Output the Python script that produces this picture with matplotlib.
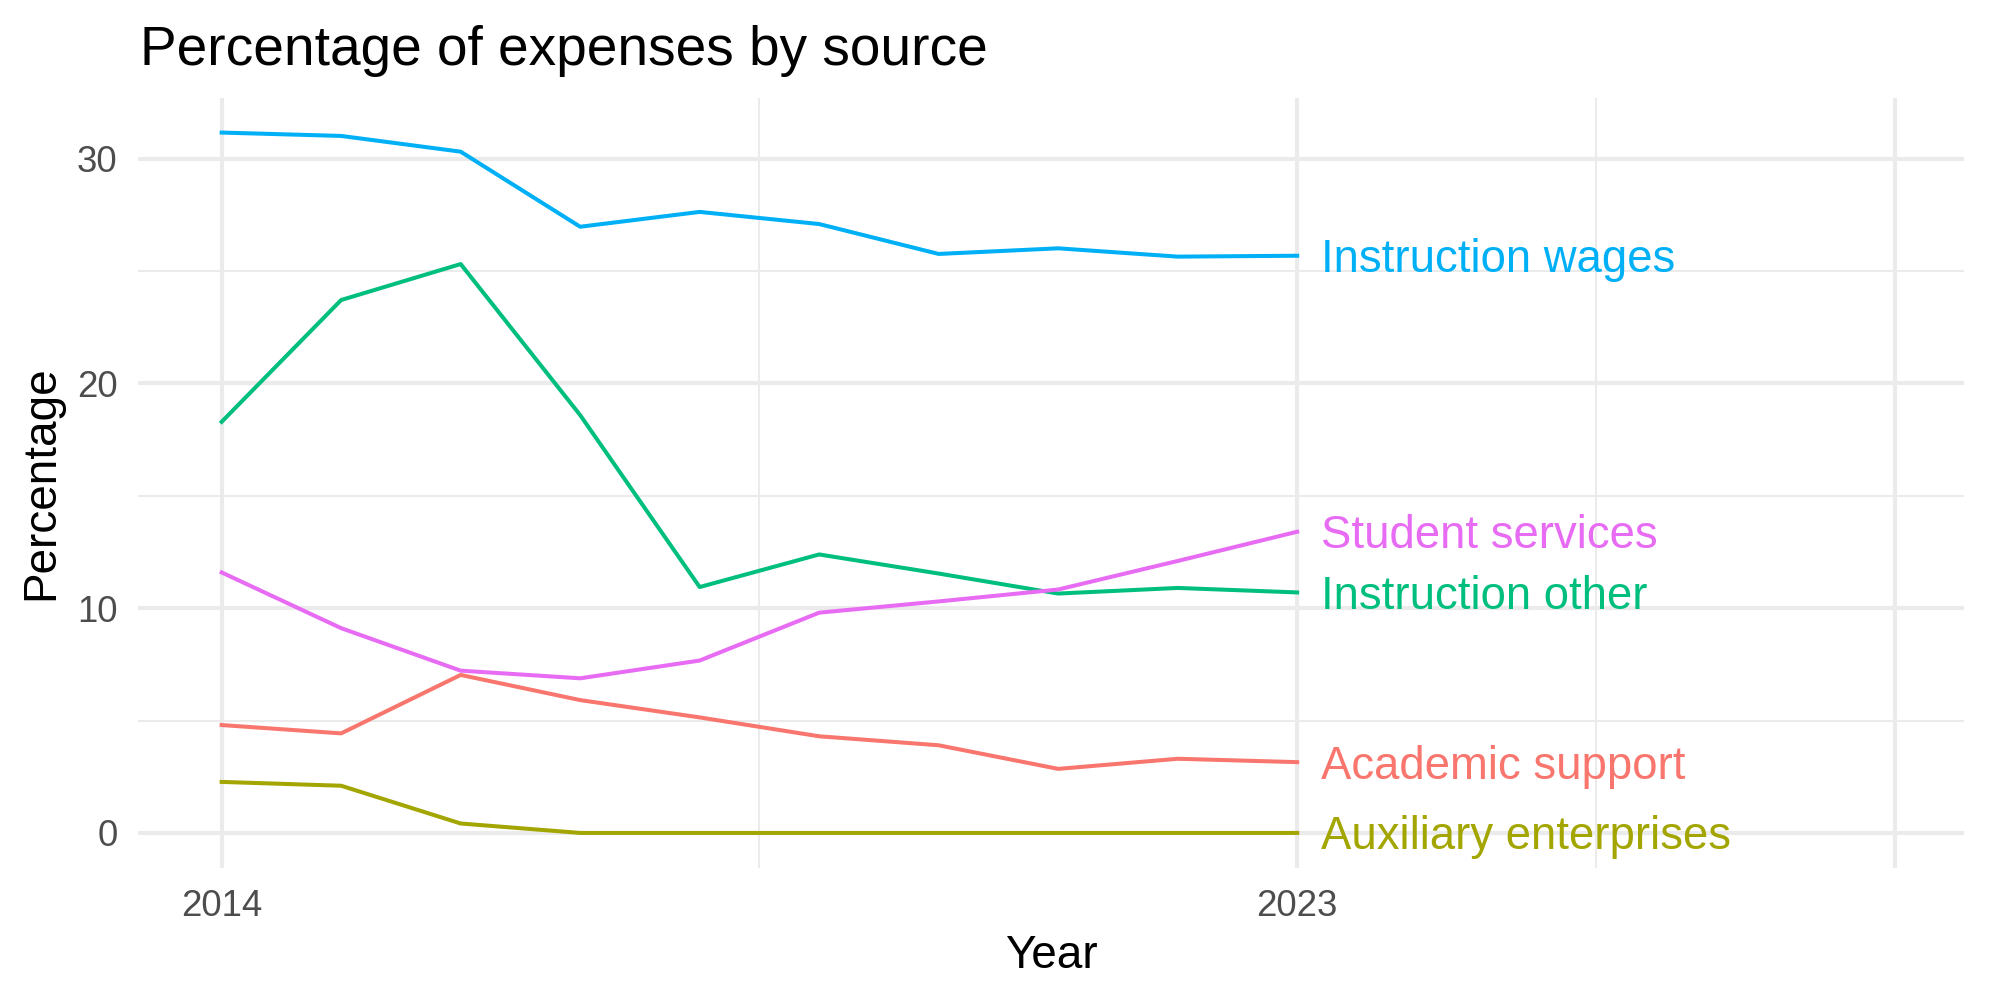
import matplotlib
matplotlib.use("Agg")
import matplotlib.pyplot as plt
from matplotlib.transforms import offset_copy

plt.rcParams['font.family'] = ['Liberation Sans', 'DejaVu Sans']

# data
years = [2014, 2015, 2016, 2017, 2018, 2019, 2020, 2021, 2022, 2023]
academic_support = [4.80, 4.43, 7.03, 5.91, 5.14, 4.30, 3.90, 2.85, 3.30, 3.15]
auxiliary_enterprises = [2.27, 2.10, 0.42, 0, 0, 0, 0, 0, 0, 0]
instruction_other = [18.29, 23.71, 25.31, 18.59, 10.94, 12.39, 11.54, 10.65, 10.90, 10.70]
instruction_wages = [31.16, 31.01, 30.31, 26.97, 27.63, 27.09, 25.76, 26.01, 25.64, 25.68]
student_services = [11.59, 9.11, 7.22, 6.88, 7.67, 9.80, 10.30, 10.83, 12.10, 13.40]

sources = ['Academic support', 'Auxiliary enterprises', 'Instruction other',
           'Instruction wages', 'Student services']
series = [academic_support, auxiliary_enterprises, instruction_other,
          instruction_wages, student_services]
colors = ['#F8766D', '#A3A500', '#00BF7D', '#00B0F6', '#E76BF3']

x_breaks = [2014, 2023, 2028]
x_labels = ['2014', '2023', '']
x_minor = [2018.5, 2025.5]
y_breaks = [0, 10, 20, 30]
y_minor = [5, 15, 25]

fig = plt.figure(figsize=(10, 5), dpi=200)
ax = fig.add_axes([0.069, 0.132, 0.913, 0.7705])

grid = '#EBEBEB'
for v in y_minor:
    ax.axhline(v, color=grid, lw=0.75, zorder=0)
for v in x_minor:
    ax.axvline(v, color=grid, lw=0.75, zorder=0)
for v in y_breaks:
    ax.axhline(v, color=grid, lw=1.5, zorder=0)
for v in x_breaks:
    ax.axvline(v, color=grid, lw=1.5, zorder=0)

# labels centred on cap height, like ggplot's vjust = 0.5
lab_size = 16.4
lab_trans = offset_copy(ax.transData, fig=fig, x=0, y=-lab_size * 0.36, units='points')
for name, vals, c in zip(sources, series, colors):
    ax.plot(years, vals, color=c, lw=1.45, zorder=2)
    ax.text(years[-1] + 0.2, vals[-1], name, color=c, fontsize=lab_size,
            ha='left', va='baseline', transform=lab_trans, zorder=3)

ax.set_xlim(2013.3, 2028.58)
ax.set_ylim(-1.56, 32.72)
ax.set_xticks(x_breaks)
ax.set_xticklabels(x_labels)
ax.set_yticks(y_breaks)
ax.tick_params(length=0, pad=7.4, labelsize=13.2, labelcolor='#4D4D4D')
for s in ax.spines.values():
    s.set_visible(False)

ax.set_xlabel('Year', fontsize=16.5, labelpad=3.8)
ax.set_ylabel('Percentage', fontsize=16.5, labelpad=5)
fig.text(0.07, 0.949, 'Percentage of expenses by source', fontsize=19.8,
         ha='left', va='center')

fig.savefig('out.png', dpi=200)
